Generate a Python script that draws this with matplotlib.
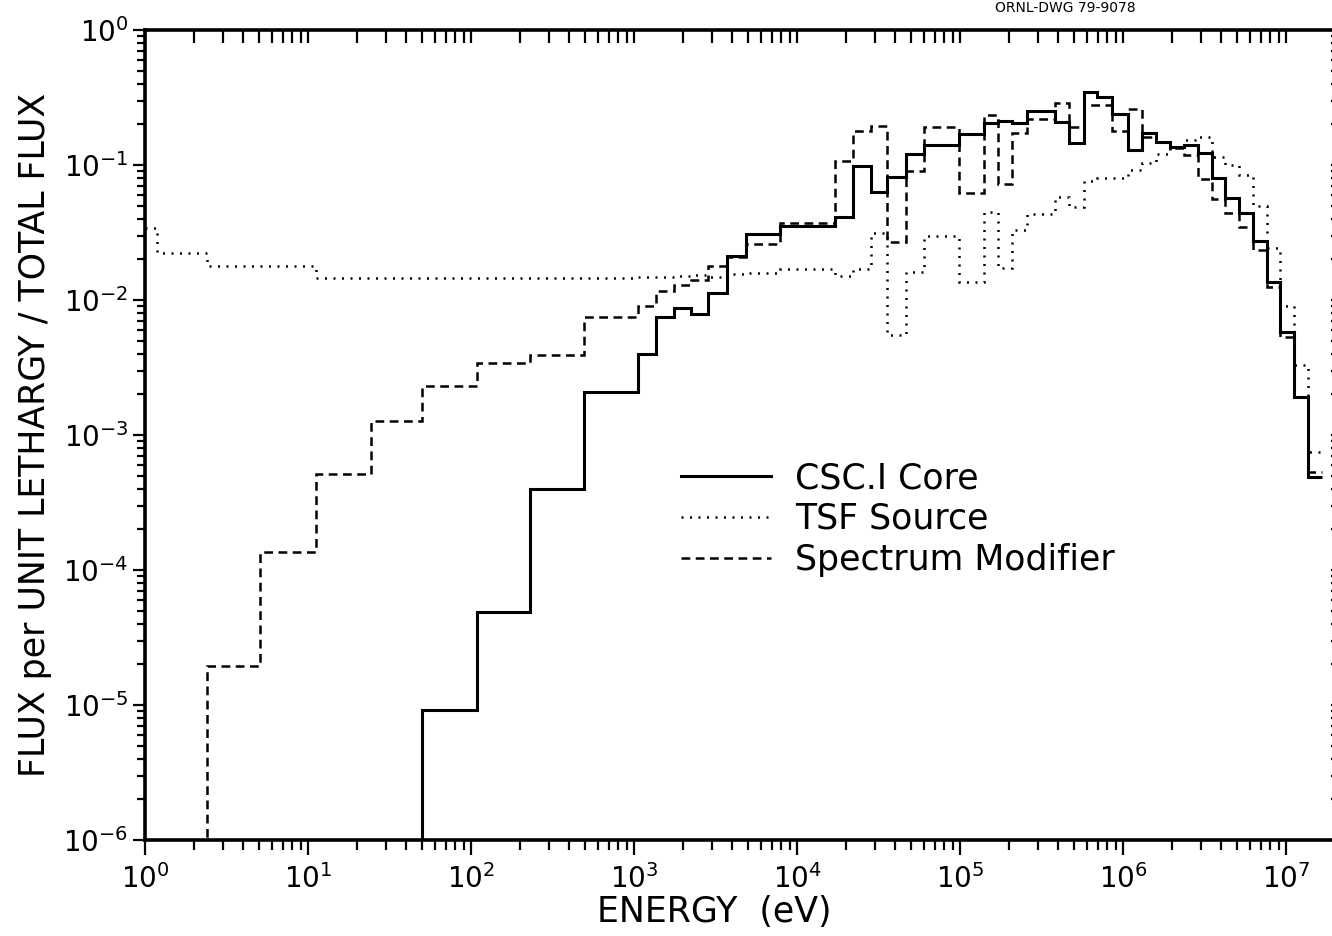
import matplotlib.pyplot as plt
from matplotlib.lines import Line2D
import numpy as np

# energy group boundaries (eV)
edges = [1.0, 1.19, 2.4, 5.1, 11.2, 24.4, 50, 109, 230, 493, 1060, 1360, 1760,
         2240, 2840, 3720, 4870, 7870, 17100, 22100, 28400, 35700, 46700, 60200,
         98600, 1.40e5, 1.71e5, 2.08e5, 2.58e5, 3.83e5, 4.66e5, 5.77e5, 6.92e5,
         8.57e5, 1.07e6, 1.31e6, 1.59e6, 1.94e6, 2.37e6, 2.88e6, 3.52e6, 4.23e6,
         5.15e6, 6.28e6, 7.65e6, 9.18e6, 1.12e7, 1.37e7, 1.66e7]

nan = float('nan')
OFF = 1e-7  # below the 1e-6 floor of the plot

core = [nan, nan, nan, nan, nan, OFF, 9.2e-6, 4.9e-5, 4.0e-4, 2.1e-3, 4.0e-3,
        7.5e-3, 8.7e-3, 7.9e-3, 0.0112, 0.0211, 0.0309, 0.0353, 0.0412, 0.098,
        0.063, 0.081, 0.12, 0.141, 0.17, 0.204, 0.212, 0.205, 0.25, 0.21, 0.146,
        0.347, 0.32, 0.238, 0.129, 0.172, 0.148, 0.136, 0.14, 0.123, 0.080, 0.057,
        0.044, 0.0274, 0.0136, 0.0058, 0.0019, 4.9e-4]

tsf = [0.034, 0.0223, 0.0179, 0.0179, 0.0146, 0.0146, 0.0146, 0.0146, 0.0146,
       0.0146, 0.0147, 0.0149, 0.0150, 0.0152, 0.0148, 0.0155, 0.0159, 0.0169,
       0.0151, 0.017, 0.0315, 0.0055, 0.0161, 0.0297, 0.0136, 0.045, 0.0173,
       0.033, 0.043, 0.058, 0.049, 0.076, 0.08, 0.08, 0.092, 0.103, 0.12, 0.135,
       0.153, 0.16, 0.115, 0.10, 0.085, 0.05, 0.0244, 0.0091, 0.0033, 7.5e-4]

modifier = [nan, OFF, 1.95e-5, 1.36e-4, 5.1e-4, 1.27e-3, 2.3e-3, 3.4e-3, 3.9e-3,
            7.5e-3, 9.1e-3, 1.17e-2, 1.29e-2, 1.40e-2, 0.0179, 0.021, 0.026,
            0.037, 0.107, 0.18, 0.195, 0.027, 0.090, 0.19, 0.062, 0.235, 0.072,
            0.173, 0.22, 0.288, 0.19, 0.278, 0.278, 0.179, 0.26, 0.162, 0.148,
            0.133, 0.119, 0.079, 0.056, 0.044, 0.035, 0.0235, 0.0125, 0.0053,
            0.0019, 5.3e-4]

labels = ['CSC.I Core', 'TSF Source', 'Spectrum Modifier']

xdec = range(0, 8)
ydec = range(-6, 1)

fig = plt.figure(figsize=(13.32, 9.36), dpi=100)
ax = fig.add_axes([145 / 1332, 96 / 936, 1186 / 1332, 810 / 936])

styles = [dict(lw=2.2, linestyle='-'),
          dict(lw=1.8, linestyle=(0, (0.8, 2.6))),
          dict(lw=1.8, linestyle=(0, (3.5, 2.2)))]

for vals, st in zip([core, tsf, modifier], styles):
    v = np.array(vals)
    i0 = int(np.argmax(np.isfinite(v)))
    ax.stairs(v[i0:], edges[i0:], baseline=None, color='black', **st)

ax.set_xscale('log')
ax.set_yscale('log')
xmax = 10 ** (1186 / 163)
ax.set_xlim(1, xmax)
ax.set_ylim(1e-6, 1)

ax.set_xticks([10.0 ** k for k in xdec], [f'$10^{{{k}}}$' for k in xdec])
ax.set_xticks([m * 10.0 ** k for k in xdec for m in range(2, 10) if m * 10.0 ** k < xmax],
              minor=True)
ax.set_yticks([10.0 ** k for k in ydec], [f'$10^{{{k}}}$' for k in ydec])
ax.set_yticks([m * 10.0 ** k for k in ydec[:-1] for m in range(2, 10)], minor=True)

for s in ['top', 'bottom', 'left']:
    ax.spines[s].set_linewidth(2.6)
ax.spines['right'].set_visible(False)

ax.tick_params(axis='x', which='both', bottom=True, top=True, labelsize=20, pad=6, width=1.6)
ax.tick_params(axis='x', which='major', length=11)
ax.tick_params(axis='x', which='minor', length=7)
ax.tick_params(axis='y', which='both', left=True, right=True, labelsize=20, pad=3, width=1.6)
ax.tick_params(axis='y', which='major', length=9)
ax.tick_params(axis='y', which='minor', length=6)
for t in ax.xaxis.get_major_ticks() + ax.xaxis.get_minor_ticks():
    t.tick2line.set_marker(3)  # top ticks point inward
    t.tick2line.set_markersize(9)
for t in ax.yaxis.get_major_ticks() + ax.yaxis.get_minor_ticks():
    t.tick2line.set_marker(1)

ax.set_xlabel('ENERGY  (eV)', fontsize=25)
ax.xaxis.set_label_coords(0.48, -0.068)
ax.set_ylabel('FLUX per UNIT LETHARGY / TOTAL FLUX', fontsize=25, labelpad=8)

handles = [Line2D([], [], color='black', **st) for st in styles]
ax.legend(handles, labels, loc='upper left', bbox_to_anchor=(0.44, 0.485),
          frameon=False, fontsize=25, handlelength=2.6, handletextpad=0.7,
          labelspacing=0.2, borderaxespad=0)

fig.text(1065 / 1332, 1 - 8 / 936, 'ORNL-DWG 79-9078', ha='center', va='center', fontsize=10)

fig.savefig('out.png', dpi=100)
